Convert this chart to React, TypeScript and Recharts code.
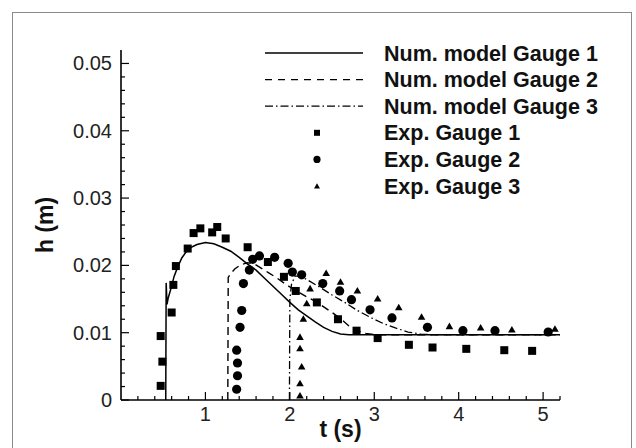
import React from 'react';
import {
  ComposedChart,
  Line,
  Scatter,
  XAxis,
  YAxis,
  Legend,
} from 'recharts';

// numerical model curves, [t (s), h (m)]
const numGauge1 = [
  [0.53, 0], [0.535, 0.0174], [0.545, 0.0142], [0.56, 0.0152], [0.59, 0.0165], [0.63, 0.0184],
  [0.67, 0.0197], [0.72, 0.0211], [0.8, 0.0225], [0.9, 0.0231], [1.0, 0.0234], [1.1, 0.0232],
  [1.2, 0.0227], [1.3, 0.0221], [1.4, 0.0212], [1.5, 0.0202], [1.6, 0.0193], [1.7, 0.0181],
  [1.8, 0.0169], [1.9, 0.0157], [2.0, 0.0145], [2.1, 0.0134], [2.2, 0.0125], [2.3, 0.0116],
  [2.4, 0.0108], [2.5, 0.0102], [2.6, 0.0098], [2.7, 0.0097], [5.2, 0.0097],
];
const numGauge2 = [
  [1.265, 0], [1.27, 0.0182], [1.3, 0.0188], [1.35, 0.0195], [1.42, 0.0201], [1.5, 0.0204],
  [1.58, 0.0202], [1.66, 0.0196], [1.75, 0.0189], [1.85, 0.0181], [1.95, 0.0172], [2.05, 0.0164],
  [2.19, 0.0154], [2.28, 0.0148], [2.37, 0.0141], [2.5, 0.013], [2.61, 0.012], [2.7, 0.011],
  [2.8, 0.0103], [2.9, 0.0099], [3.0, 0.0097], [5.2, 0.0097],
];
const numGauge3 = [
  [1.995, 0], [2.0, 0.015], [2.02, 0.0172], [2.06, 0.0184], [2.12, 0.0184], [2.2, 0.0179],
  [2.35, 0.0168], [2.5, 0.0156], [2.65, 0.0145], [2.8, 0.0133], [2.95, 0.0123], [3.1, 0.0114],
  [3.25, 0.0107], [3.4, 0.0101], [3.55, 0.0098], [3.7, 0.0097], [5.2, 0.0097],
];

// experimental gauges
const expGauge1 = [
  [0.47, 0.0021], [0.49, 0.0057], [0.47, 0.0095], [0.6, 0.013], [0.62, 0.0171], [0.65, 0.0199],
  [0.79, 0.0225], [0.86, 0.0248], [0.94, 0.0255], [1.08, 0.0249], [1.14, 0.0257], [1.24, 0.024],
  [1.5, 0.0227], [1.74, 0.0205], [1.93, 0.0183], [2.07, 0.0162], [2.32, 0.0145], [2.57, 0.012],
  [2.79, 0.0103], [3.04, 0.0092], [3.41, 0.0082], [3.69, 0.0078], [4.09, 0.0076], [4.54, 0.0074],
  [4.87, 0.0073],
];
const expGauge2 = [
  [1.37, 0.0016], [1.38, 0.0036], [1.38, 0.0055], [1.37, 0.0074], [1.41, 0.0108], [1.43, 0.0133],
  [1.45, 0.0173], [1.52, 0.0193], [1.56, 0.0209], [1.64, 0.0214], [1.82, 0.0212], [1.98, 0.0203],
  [2.03, 0.019], [2.14, 0.0186], [2.39, 0.0173], [2.59, 0.0162], [2.73, 0.0149], [2.95, 0.0134],
  [3.21, 0.0122], [3.63, 0.0108], [4.05, 0.0103], [4.43, 0.0103], [5.06, 0.0101],
];
const expGauge3 = [
  [2.12, 0.0007], [2.12, 0.0025], [2.14, 0.005], [2.12, 0.0077], [2.12, 0.0094], [2.16, 0.0121],
  [2.2, 0.0144], [2.24, 0.0166], [2.43, 0.0189], [2.6, 0.0176], [2.8, 0.0163], [3.04, 0.0151],
  [3.29, 0.0138], [3.56, 0.0124], [3.89, 0.011], [4.26, 0.0108], [4.63, 0.0105], [5.14, 0.0106],
];

const xTicks = [
  0.2, 0.4, 0.6, 0.8, 1, 1.2, 1.4, 1.6, 1.8, 2, 2.2, 2.4, 2.6, 2.8, 3,
  3.2, 3.4, 3.6, 3.8, 4, 4.2, 4.4, 4.6, 4.8, 5, 5.2,
];
const yTicks = [
  0, 0.002, 0.004, 0.006, 0.008, 0.01, 0.012, 0.014, 0.016, 0.018, 0.02, 0.022, 0.024, 0.026,
  0.028, 0.03, 0.032, 0.034, 0.036, 0.038, 0.04, 0.042, 0.044, 0.046, 0.048, 0.05,
];

const legendItems = [
  { label: 'Num. model Gauge 1', kind: 'line', dash: undefined },
  { label: 'Num. model Gauge 2', kind: 'line', dash: '7 6' },
  { label: 'Num. model Gauge 3', kind: 'line', dash: '8 3 1.5 3' },
  { label: 'Exp. Gauge 1', kind: 'square' },
  { label: 'Exp. Gauge 2', kind: 'circle' },
  { label: 'Exp. Gauge 3', kind: 'triangle' },
];

const toPts = (arr: number[][]) => arr.map(([t, h]) => ({ t, h }));

const FONT = '"Liberation Sans", Arial, sans-serif';

const XTick = (props: any) => {
  const { x, y, payload } = props;
  const v = payload.value;
  const major = Math.abs(v - Math.round(v)) < 1e-6;
  return (
    <g>
      <line x1={x} x2={x} y1={y} y2={y - (major ? 8 : 4)} stroke="#000" strokeWidth={1.2} />
      {major && (
        <text x={x} y={y + 21} textAnchor="middle" fontSize={20} fontFamily={FONT} fill="#222">
          {v}
        </text>
      )}
    </g>
  );
};

const YTick = (props: any) => {
  const { x, y, payload } = props;
  const v = payload.value;
  const major = Math.abs(v * 100 - Math.round(v * 100)) < 1e-6;
  return (
    <g>
      <line x1={x} x2={x + (major ? 8 : 4)} y1={y} y2={y} stroke="#000" strokeWidth={1.2} />
      {major && (
        <text x={x - 9} y={y + 7} textAnchor="end" fontSize={20} fontFamily={FONT} fill="#222">
          {v === 0 ? '0' : v.toFixed(2)}
        </text>
      )}
    </g>
  );
};

const Square = (p: any) => <rect x={p.cx - 4} y={p.cy - 4} width={8} height={8} fill="#000" />;
const Dot = (p: any) => <circle cx={p.cx} cy={p.cy} r={4.6} fill="#000" />;
const Tri = (p: any) => (
  <polygon points={`${p.cx - 3.8},${p.cy + 3.2} ${p.cx + 3.8},${p.cy + 3.2} ${p.cx},${p.cy - 3.4}`} fill="#000" />
);

const LegendBox = () => (
  <svg width={370} height={165}>
    {legendItems.map((it, i) => {
      const cy = 15 + i * 26.6;
      return (
        <g key={it.label}>
          {it.kind === 'line' && (
            <line x1={10} x2={108} y1={cy} y2={cy} stroke="#000" strokeWidth={1.3} strokeDasharray={it.dash} />
          )}
          {it.kind === 'square' && <rect x={59} y={cy - 3} width={6} height={6} fill="#000" />}
          {it.kind === 'circle' && <circle cx={62} cy={cy} r={3.6} fill="#000" />}
          {it.kind === 'triangle' && (
            <polygon points={`${59},${cy + 2.6} ${65},${cy + 2.6} ${62},${cy - 2.8}`} fill="#000" />
          )}
          <text x={129} y={cy + 7.5} fontSize={21.5} fontWeight="bold" fontFamily={FONT} fill="#111">
            {it.label}
          </text>
        </g>
      );
    })}
  </svg>
);

export default function App() {
  return (
    <div style={{ position: 'fixed', left: 0, top: 0, width: 636, height: 448, overflow: 'hidden', background: '#fff' }}>
      <div
        style={{
          position: 'absolute', left: 12, top: 12, width: 620, height: 470,
          border: '1.5px solid #8a8a8a', boxSizing: 'border-box',
        }}
      />
      <ComposedChart width={636} height={448} margin={{ top: 50, right: 76, bottom: 0, left: 0 }}>
        <XAxis
          type="number"
          dataKey="t"
          domain={[0, 5.2]}
          allowDataOverflow
          ticks={xTicks}
          interval={0}
          height={48}
          tickSize={0}
          tickMargin={0}
          tickLine={false}
          tick={XTick}
          axisLine={{ stroke: '#000', strokeWidth: 1.6 }}
          label={(p: any) => {
            const vb = p.viewBox;
            return (
              <text x={vb.x + vb.width / 2} y={vb.y + 37} textAnchor="middle" fontSize={23} fontWeight="bold" fontFamily={FONT} fill="#111">
                t (s)
              </text>
            );
          }}
        />
        <YAxis
          type="number"
          dataKey="h"
          domain={[0, 0.052]}
          allowDataOverflow
          ticks={yTicks}
          interval={0}
          width={121}
          tickSize={0}
          tickMargin={0}
          tickLine={false}
          tick={YTick}
          axisLine={{ stroke: '#000', strokeWidth: 1.6 }}
          label={(p: any) => {
            const vb = p.viewBox;
            const cx = 45;
            const cy = vb.y + vb.height / 2;
            return (
              <text x={cx} y={cy} transform={`rotate(-90 ${cx} ${cy})`} textAnchor="middle" dominantBaseline="central" fontSize={23} fontWeight="bold" fontFamily={FONT} fill="#111">
                h (m)
              </text>
            );
          }}
        />
        <Legend
          layout="horizontal"
          verticalAlign="middle"
          align="center"
          wrapperStyle={{ left: 255, top: 38, width: 370, height: 165 }}
          content={() => <LegendBox />}
        />
        <Line data={toPts(numGauge1)} dataKey="h" name="Num. model Gauge 1" type="linear" stroke="#000" strokeWidth={1.5} dot={false} isAnimationActive={false} />
        <Line data={toPts(numGauge2)} dataKey="h" name="Num. model Gauge 2" type="linear" stroke="#000" strokeWidth={1.4} strokeDasharray="8 5" dot={false} isAnimationActive={false} />
        <Line data={toPts(numGauge3)} dataKey="h" name="Num. model Gauge 3" type="linear" stroke="#000" strokeWidth={1.3} strokeDasharray="8 3 1.5 3" dot={false} isAnimationActive={false} />
        <Scatter data={toPts(expGauge1)} dataKey="h" name="Exp. Gauge 1" shape={Square} isAnimationActive={false} />
        <Scatter data={toPts(expGauge2)} dataKey="h" name="Exp. Gauge 2" shape={Dot} isAnimationActive={false} />
        <Scatter data={toPts(expGauge3)} dataKey="h" name="Exp. Gauge 3" shape={Tri} isAnimationActive={false} />
      </ComposedChart>
    </div>
  );
}
